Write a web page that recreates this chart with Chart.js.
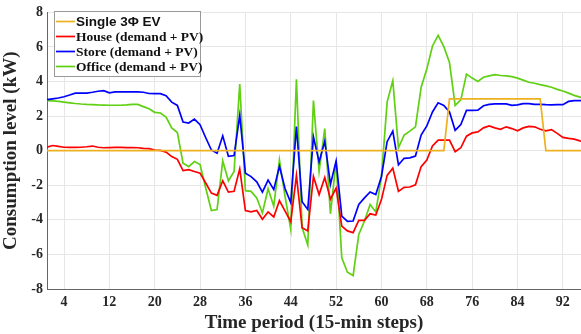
<!DOCTYPE html>
<html lang="en">
<head>
    <meta charset="UTF-8">
    <title>Consumption level</title>
    <style>
        body { margin: 0; padding: 0; background: #fff; }
        #wrap { width: 581px; height: 334px; }
    </style>
    <script src="https://cdn.jsdelivr.net/npm/chart.js"></script>
</head>
<body>
    <div id="wrap"><canvas id="chart" width="581" height="334"></canvas></div>
    <script>
        // time steps (15-min)
        const steps = [1,2,3,4,5,6,7,8,9,10,11,12,13,14,15,16,17,18,19,20,
            21,22,23,24,25,26,27,28,29,30,31,32,33,34,35,36,37,38,39,40,
            41,42,43,44,45,46,47,48,49,50,51,52,53,54,55,56,57,58,59,60,
            61,62,63,64,65,66,67,68,69,70,71,72,73,74,75,76,77,78,79,80,
            81,82,83,84,85,86,87,88,89,90,91,92,93,94,95,96];

        const evLoad = [0,0,0,0,0,0,0,0,0,0, 0,0,0,0,0,0,0,0,0,0,
            0,0,0,0,0,0,0,0,0,0, 0,0,0,0,0,0,0,0,0,0,
            0,0,0,0,0,0,0,0,0,0, 0,0,0,0,0,0,0,0,0,0,
            0,0,0,0,0,0,0,0,0,0, 0,3,3,3,3,3,3,3,3,3,
            3,3,3,3,3,3,3,3,0,0, 0,0,0,0,0,0];

        const house = [0.20,0.30,0.25,0.20,0.19,0.19,0.20,0.23,0.27,0.20,
            0.17,0.18,0.19,0.19,0.18,0.18,0.17,0.14,0.12,0.04,
            0.02,-0.08,-0.34,-0.50,-1.15,-1.10,-1.20,-1.30,-1.87,-2.45,
            -2.58,-1.74,-2.40,-2.35,-1.05,-3.46,-3.54,-3.46,-3.97,-3.54,
            -3.83,-2.89,-3.50,-4.11,-1.43,-4.45,-4.64,-1.49,-2.54,-1.55,
            -2.80,-2.16,-4.36,-4.64,-4.74,-4.03,-4.03,-3.65,-3.72,-2.83,
            -1.43,-1.01,-2.35,-2.12,-2.10,-1.97,-0.92,-0.54,0.27,0.61,
            0.61,0.61,-0.06,0.17,0.84,1.03,1.09,1.32,1.43,1.32,
            1.24,1.38,1.28,1.15,1.32,1.41,1.38,1.24,1.15,1.22,
            1.00,0.77,0.71,0.67,0.57,0.50];

        const store = [2.95,3.00,3.05,3.12,3.22,3.33,3.33,3.33,3.38,3.44,
            3.47,3.35,3.40,3.40,3.40,3.40,3.40,3.38,3.31,3.30,
            3.30,3.18,2.81,2.62,1.66,1.60,1.83,1.50,0.75,0.04,
            -0.15,0.86,-0.32,-0.28,2.05,-1.30,-1.50,-1.80,-2.40,-1.70,
            -2.25,-0.90,-2.20,-3.00,1.40,-2.95,-3.40,0.80,-0.65,0.55,
            -1.95,-0.60,-3.78,-4.09,-4.07,-3.11,-2.73,-2.39,-2.54,-1.49,
            0.52,1.13,-0.82,-0.44,-0.41,-0.31,0.90,1.43,2.24,2.77,
            2.62,2.24,1.18,1.51,2.33,2.33,2.35,2.60,2.68,2.71,
            2.71,2.71,2.62,2.65,2.72,2.72,2.68,2.68,2.66,2.65,
            2.66,2.66,2.85,2.90,2.90,2.88];

        const office = [2.90,2.88,2.85,2.81,2.77,2.73,2.70,2.68,2.67,2.65,
            2.64,2.63,2.63,2.63,2.65,2.68,2.68,2.55,2.43,2.22,
            2.18,1.95,1.32,1.05,-0.73,-0.92,-0.63,-0.80,-2.16,-3.46,
            -3.40,-0.59,-1.74,-1.20,3.86,-2.31,-2.35,-2.73,-3.60,-2.20,
            -3.21,-0.54,-2.65,-4.55,4.13,-4.45,-5.45,2.90,-1.20,1.28,
            -3.65,-0.59,-6.20,-7.03,-7.22,-4.84,-4.07,-3.11,-3.54,-1.50,
            2.81,4.05,0.17,0.90,1.13,1.38,3.67,4.72,6.06,6.67,
            6.02,5.10,2.62,2.94,4.43,4.20,4.00,4.25,4.33,4.40,
            4.35,4.33,4.28,4.20,4.08,3.96,3.90,3.82,3.75,3.67,
            3.55,3.45,3.33,3.20,3.10,3.00];

        const xTicks = [4, 12, 20, 28, 36, 44, 52, 60, 68, 76, 84, 92];

        const serif = "'Liberation Serif', 'Times New Roman', serif";
        const sans = "'Liberation Sans', Arial, sans-serif";

        const series = [
            { label: 'Single 3Φ EV', data: evLoad, color: '#EDB120', font: sans },
            { label: 'House (demand + PV)', data: house, color: '#FF0000', font: serif },
            { label: 'Store (demand + PV)', data: store, color: '#0000FF', font: serif },
            { label: 'Office (demand + PV)', data: office, color: '#5FD012', font: serif }
        ];

        // legend box inside the plot, top left
        const legendBox = {
            id: 'legendBox',
            afterDraw(chart) {
                const c = chart.ctx;
                const x0 = 54, y0 = 11, w = 146, h = 65;
                c.save();
                c.fillStyle = '#fff';
                c.fillRect(x0, y0, w, h);
                c.strokeStyle = '#999';
                c.lineWidth = 1;
                c.strokeRect(x0 + 0.5, y0 + 0.5, w, h);
                series.forEach((s, i) => {
                    const y = y0 + 10.5 + i * 15;
                    c.strokeStyle = s.color;
                    c.lineWidth = 1.7;
                    c.beginPath();
                    c.moveTo(x0 + 2, y);
                    c.lineTo(x0 + 21, y);
                    c.stroke();
                    c.fillStyle = '#111';
                    c.font = 'bold 13.5px ' + s.font;
                    c.textBaseline = 'middle';
                    c.fillText(s.label, x0 + 22, y + 1);
                });
                c.restore();
            }
        };

        const tickFont = { family: serif, size: 14, weight: 'bold' };
        const titleFont = { family: serif, size: 19, weight: 'bold' };

        new Chart(document.getElementById('chart'), {
            type: 'line',
            data: {
                datasets: series.map(s => ({
                    label: s.label,
                    data: steps.map((t, i) => ({ x: t, y: s.data[i] })),
                    borderColor: s.color,
                    borderWidth: 1.7,
                    pointRadius: 0,
                    tension: 0,
                    fill: false
                }))
            },
            options: {
                responsive: false,
                animation: false,
                layout: { padding: { top: 10, right: 0, bottom: 0, left: 0 } },
                plugins: { legend: { display: false }, tooltip: { enabled: false } },
                scales: {
                    x: {
                        type: 'linear',
                        min: 1,
                        max: 95.2,
                        afterBuildTicks: s => { s.ticks = xTicks.map(v => ({ value: v })); },
                        afterFit: s => { s.height = 45; },
                        grid: { color: '#e6e6e6', drawTicks: false },
                        border: { color: '#666' },
                        ticks: { font: tickFont, color: '#262626', padding: 5, maxRotation: 0, autoSkip: false },
                        title: { display: true, text: 'Time period (15-min steps)', font: titleFont, color: '#262626', padding: 0 }
                    },
                    y: {
                        min: -8,
                        max: 8,
                        afterFit: s => { s.width = 47; },
                        grid: { color: '#e6e6e6', drawTicks: false },
                        border: { color: '#666' },
                        ticks: { stepSize: 2, font: tickFont, color: '#262626', padding: 4 },
                        title: { display: true, text: 'Consumption level (kW)', font: titleFont, color: '#262626', padding: 0 }
                    }
                }
            },
            plugins: [legendBox]
        });
    </script>
</body>
</html>
